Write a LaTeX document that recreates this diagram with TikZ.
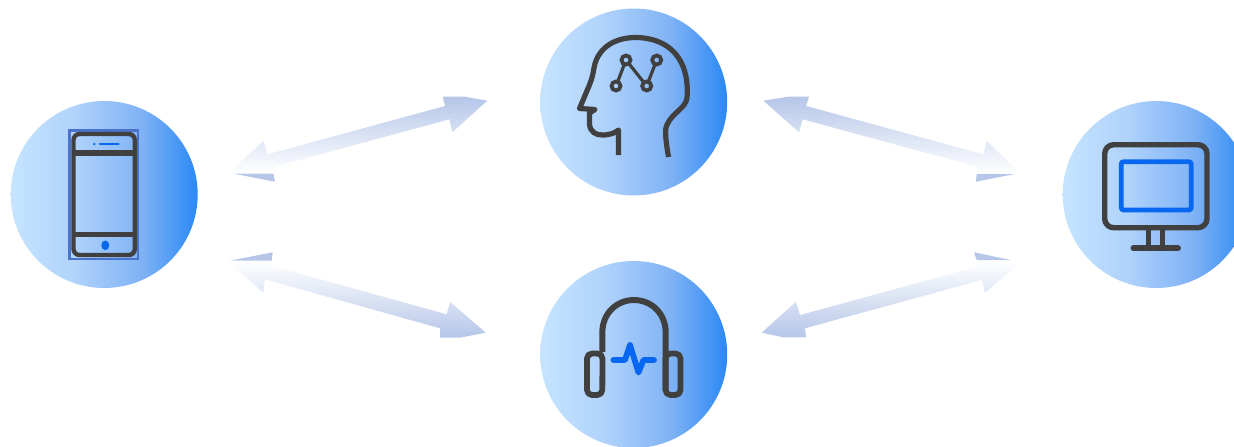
\documentclass[tikz,border=0pt]{standalone}
\definecolor{ballA}{HTML}{C6E4FF}
\definecolor{ballB}{HTML}{B0D3FB}
\definecolor{ballC}{HTML}{7FB2F5}
\definecolor{ballD}{HTML}{2A88F5}
\definecolor{ink}{HTML}{404040}
\definecolor{accent}{HTML}{0867F0}
\definecolor{arrowc}{HTML}{B5C6E8}
\definecolor{frameblue}{HTML}{4A74CC}
\pgfdeclarehorizontalshading{ballshade}{100bp}{color(0bp)=(ballA); color(25bp)=(ballA); color(42bp)=(ballB); color(60bp)=(ballC); color(75bp)=(ballD); color(100bp)=(ballD)}
\tikzset{
  ball/.style={circle,minimum size=187pt,inner sep=0pt,outer sep=0pt,shading=ballshade},
  inkline/.style={draw=ink,line width=5.2pt,line join=round},
  accentline/.style={draw=accent,line width=5.8pt,line join=round,line cap=round},
  fadearrow/.style={top color=arrowc,middle color=arrowc!42!white,bottom color=white},
  fadearrowup/.style={top color=white,middle color=arrowc!42!white,bottom color=arrowc},
  arrowcut/.style={fill=arrowc,draw=none},
  synapse/.style={circle,draw=ink,line width=3.8pt,minimum size=9pt,inner sep=0pt,outer sep=0pt},
}
\begin{document}
\begin{tikzpicture}[x=1pt,y=-1pt]
\useasboundingbox (0,0) rectangle (1234,447);
\clip (0,0) rectangle (1234,447);
\node[ball] (phone) at (104.2,194.5) {};
\node[ball] (brain) at (633.7,102) {};
\node[ball] (audio) at (633.7,354.5) {};
\node[ball] (screen) at (1156.2,194.5) {};
% arrow phone-brain
\path[fadearrow] (487.3,100.7) -- (465,96.7) -- (442.7,96.7) -- (445,106) -- (267.7,154.3) -- (263.3,141) -- (231.7,170) -- (233.3,173.3) -- (273.3,173.3) -- (275,166.7) -- (449.3,119.3) -- (452.3,132.3) -- cycle;
\fill[arrowcut] (233.3,173.6) -- (273.3,173.6) -- (275,181.7) -- cycle;
% arrow phone-audio
\path[fadearrowup] (230,260.9) -- (271.7,260.9) -- (271.7,265.7) -- (446.7,314.3) -- (450,301.7) -- (485.7,332.7) -- (460,337.7) -- (440,337.7) -- (440,328.3) -- (265,279.3) -- (263.3,292.7) -- (230,263) -- cycle;
\fill[arrowcut] (230,260.7) -- (272.7,252.3) -- (271.7,260.7) -- cycle;
% arrow brain-screen
\path[fadearrow] (763.3,100.7) -- (788.3,96.7) -- (809,96.7) -- (806,106) -- (983.3,154.3) -- (986.7,141) -- (1016.7,170) -- (1015,173.7) -- (976.7,173.7) -- (976.7,166.7) -- (802.7,119.3) -- (799,132.3) -- cycle;
\fill[arrowcut] (1015,174) -- (976.7,174) -- (976,181.7) -- cycle;
% arrow audio-screen
\path[fadearrowup] (1010.7,260.2) -- (976.7,260.2) -- (976.7,266.7) -- (800,315) -- (796,301.7) -- (761.7,332.7) -- (783.3,337.3) -- (806,337.3) -- (805,328.3) -- (981.7,280) -- (985,292.7) -- (1019,263.3) -- cycle;
\fill[arrowcut] (974,252.3) -- (1010.7,260) -- (976.7,260) -- cycle;
% phone icon
\draw[frameblue,line width=2.4pt] (69.5,130.5) rectangle (138,259);
\draw[ink,line width=4.4pt,rounded corners=6pt] (73.5,134) rectangle (134.8,255);
\draw[ink,line width=5.6pt] (72,152.7) -- (136,152.7);
\draw[ink,line width=5pt] (72,234.5) -- (136,234.5);
\fill[accent] (94.3,144) circle (1.3);
\draw[accent,line width=2.8pt,line cap=round] (100,144) -- (118.4,144);
\fill[accent] (105.3,245.3) ellipse (4 and 4.8);
% head icon
\draw[inkline] (668.5,157) .. controls (666,142) and (664,128) .. (667.5,124) .. controls (672,113) and (686,108) .. (687,98) .. controls (690,60) and (670,38) .. (636,37.5) .. controls (612,37.5) and (597,50) .. (594,68) .. controls (592,80) and (590,83) .. (589,86) -- (579.5,108.5) -- (595,109.5) -- (589.5,113) -- (589.5,124) .. controls (590,132) and (596,135) .. (602,135) .. controls (610,135) and (615,133) .. (618.5,130) -- (618.5,155);
\node[synapse] (s1) at (616,86) {};
\node[synapse] (s2) at (626,60) {};
\node[synapse] (s3) at (646.7,86) {};
\node[synapse] (s4) at (656.7,60) {};
\draw[ink,line width=3.2pt] (s1) -- (s2);
\draw[ink,line width=3.2pt] (s2) -- (s3);
\draw[ink,line width=3.2pt] (s3) -- (s4);
% headphones icon
\draw[inkline,line width=6pt] (602.3,352) -- (602.3,333) .. controls (602.3,312) and (618,300) .. (634,300) .. controls (650,300) and (665.7,312) .. (665.7,333) -- (665.7,390);
\draw[inkline,line width=5.8pt,rounded corners=5pt] (602.5,353.5) -- (587,353.5) -- (587,395) -- (602.3,395) -- cycle;
\draw[inkline,line width=5.8pt,rounded corners=5pt] (665.5,353.5) -- (680.5,353.5) -- (680.5,395) -- (665.5,395) -- cycle;
\draw[accentline] (613.5,360) -- (625,360) -- (630,345) -- (638.5,372.5) -- (643.5,360) -- (654,360);
% monitor icon
\draw[inkline,line width=5.4pt,rounded corners=9pt] (1104.7,144.7) rectangle (1207,227.7);
\draw[accent,line width=4.8pt,rounded corners=2.5pt] (1121.2,161.7) rectangle (1191.2,210);
\draw[ink,line width=4.8pt] (1148.7,230) -- (1148.7,247) (1162.7,230) -- (1162.7,247);
\draw[ink,line width=6pt,line cap=round] (1133.5,248.3) -- (1178,248.3);
\end{tikzpicture}
\end{document}
